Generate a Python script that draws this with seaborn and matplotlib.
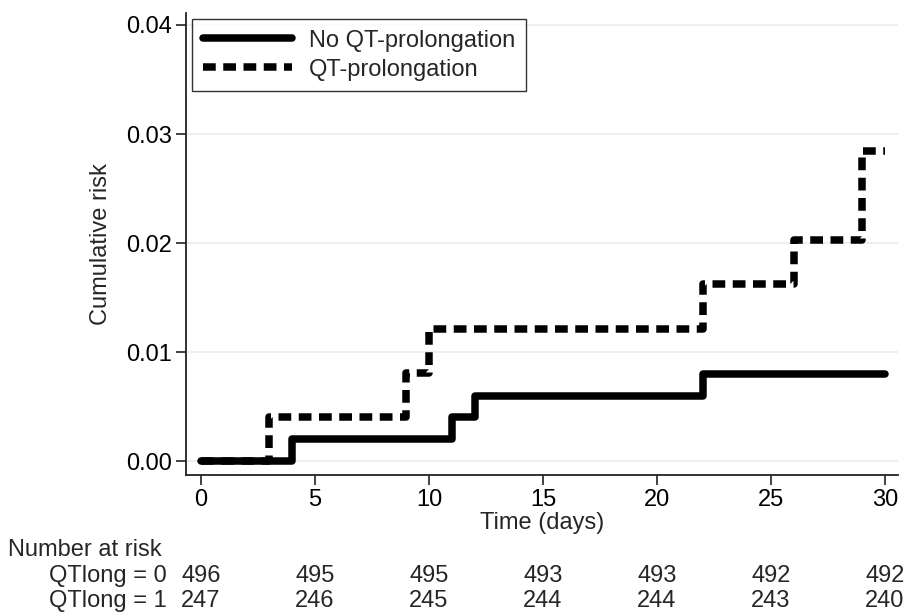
import numpy as np
import pandas as pd
import matplotlib
matplotlib.use("Agg")
import matplotlib.pyplot as plt
import matplotlib.transforms as mtransforms
import seaborn as sns

# ── data ─────────────────────────────────────────────────────────────────────
t_noqt = [0, 4, 11, 12, 22, 30]
risk_noqt = [0.0, 0.002, 0.004, 0.006, 0.008, 0.008]

t_qt = [0, 3, 9, 10, 22, 26, 29, 30]
risk_qt = [0.0, 0.00405, 0.0081, 0.01215, 0.0162, 0.0203, 0.0284, 0.0284]

risk_times = [0, 5, 10, 15, 20, 25, 30]
at_risk_0 = [496, 495, 495, 493, 493, 492, 492]
at_risk_1 = [247, 246, 245, 244, 244, 243, 240]

sns.set_theme(style="ticks")
plt.rcParams["font.family"] = ["Liberation Sans", "DejaVu Sans"]
FS = 17

fig = plt.figure(figsize=(9.07, 6.13), dpi=100)
ax = fig.add_axes([186 / 907, 1 - 475 / 613, (898 - 186) / 907, (475 - 13) / 613])

df0 = pd.DataFrame({"t": t_noqt, "risk": risk_noqt})
df1 = pd.DataFrame({"t": t_qt, "risk": risk_qt})

sns.lineplot(data=df0, x="t", y="risk", ax=ax, drawstyle="steps-post",
             estimator=None, sort=False, color="black", lw=5.4,
             solid_capstyle="round", solid_joinstyle="round",
             label="No QT-prolongation")
sns.lineplot(data=df1, x="t", y="risk", ax=ax, drawstyle="steps-post",
             estimator=None, sort=False, color="black", lw=5.4,
             dashes=False, label="QT-prolongation")
ax.lines[1].set_dashes((1.7, 1.0))

ax.set_xlim(-0.66, 30.57)
ax.set_ylim(-0.00128, 0.0411)
ax.set_xticks(risk_times)
ax.set_yticks([0, 0.01, 0.02, 0.03, 0.04])
ax.set_yticklabels(["0.00", "0.01", "0.02", "0.03", "0.04"])
ax.grid(axis="y", color="#e6eef0", lw=1.2)
ax.set_axisbelow(True)
sns.despine(ax=ax)
for s in ["left", "bottom"]:
    ax.spines[s].set_linewidth(1.3)
    ax.spines[s].set_color("#222222")
ax.tick_params(axis="both", labelsize=FS, length=7, width=1.2, color="#222222",
               colors="black", pad=3)
ax.set_xlabel("Time (days)", fontsize=FS, labelpad=1)
ax.set_ylabel("Cumulative risk", fontsize=FS, labelpad=10)

leg = ax.legend(loc="upper left", fontsize=FS, frameon=True, fancybox=False,
                edgecolor="black", handlelength=3.8, borderaxespad=0.25,
                borderpad=0.45, labelspacing=0.3, handletextpad=0.7)
leg.get_frame().set_linewidth(1.0)

# ── number at risk table ─────────────────────────────────────────────────────
trans = mtransforms.blended_transform_factory(ax.transData, fig.transFigure)
fig.text(8 / 907, 1 - 550 / 613, "Number at risk", fontsize=FS, va="center", ha="left")
fig.text(167 / 907, 1 - 576 / 613, "QTlong = 0", fontsize=FS, va="center", ha="right")
fig.text(167 / 907, 1 - 601 / 613, "QTlong = 1", fontsize=FS, va="center", ha="right")
for x, n0, n1 in zip(risk_times, at_risk_0, at_risk_1):
    ax.text(x, 1 - 576 / 613, str(n0), transform=trans, fontsize=FS,
            ha="center", va="center", clip_on=False)
    ax.text(x, 1 - 601 / 613, str(n1), transform=trans, fontsize=FS,
            ha="center", va="center", clip_on=False)

fig.savefig("out.png", dpi=100)
